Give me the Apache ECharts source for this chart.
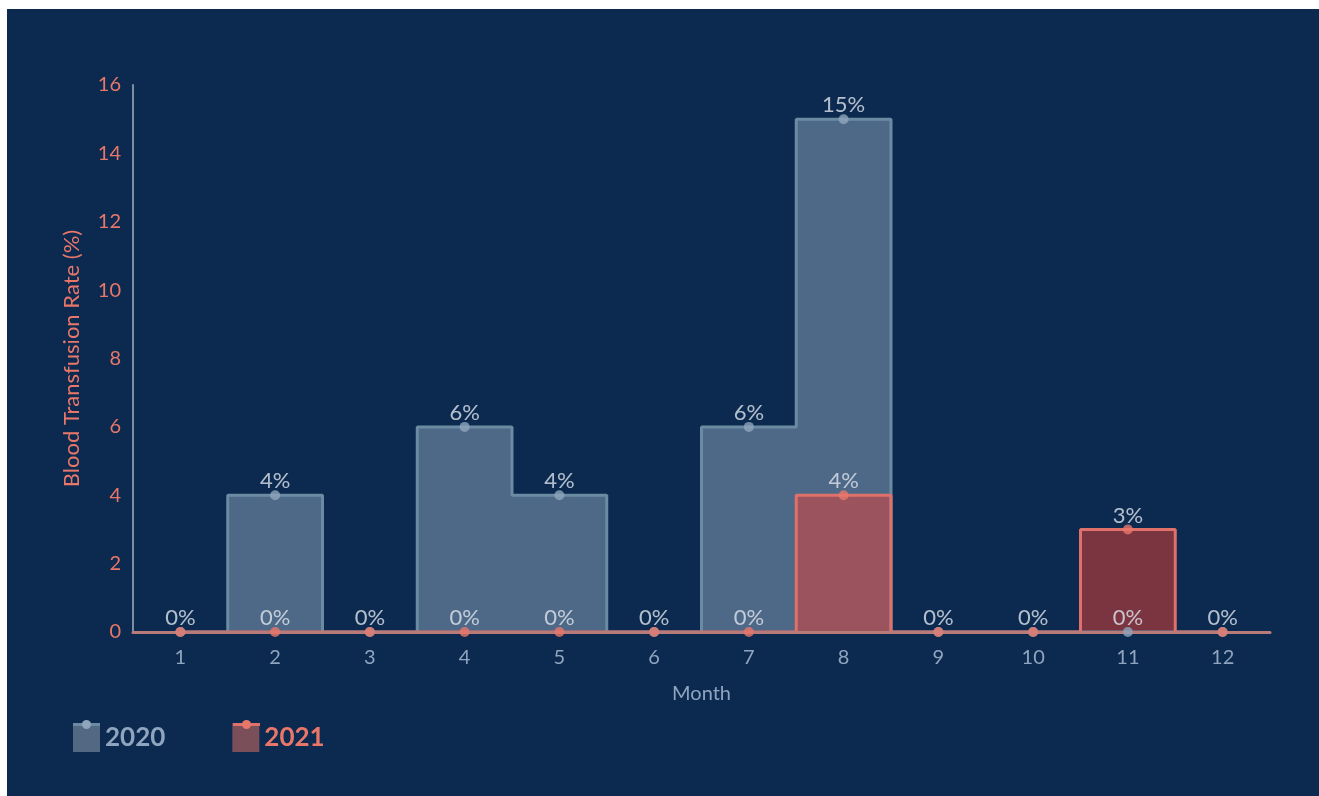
<!DOCTYPE html>
<html>
<head>
<meta charset="utf-8">
<script src="https://cdn.jsdelivr.net/npm/echarts@6/dist/echarts.min.js"></script>
<style>
  html, body { margin: 0; padding: 0; background: #ffffff; }
  #chart { position: absolute; left: 7px; top: 9px; width: 1312px; height: 787px; background: #0c2a4f; }
</style>
</head>
<body>
<div id="chart"></div>
<script>
const months = ['1','2','3','4','5','6','7','8','9','10','11','12'];
const rate2020 = [0, 4, 0, 6, 4, 0, 6, 15, 0, 0, 0, 0];
const rate2021 = [0, 0, 0, 0, 0, 0, 0, 4, 0, 0, 3, 0];
const yTicks = { min: 0, max: 16, interval: 2 };

const FONT = 'Lato';
const c2020 = { line: '#6b8ba3', point: '#8fa5bb', area: 'rgba(143,165,191,0.5)', text: '#8fa5bf', legendFill: '#536882' };
const c2021 = { line: '#e0716a', point: '#e8776a', area: 'rgba(232,64,52,0.5)', text: '#e8776a', legendFill: '#7b4f5a' };

const chart = echarts.init(document.getElementById('chart'));

function areaSeries(name, data, c) {
  return {
    name: name,
    type: 'line',
    step: 'middle',
    data: data,
    z: 1,
    symbol: 'none',
    lineStyle: { color: c.line, width: 3 },
    itemStyle: { color: c.point },
    areaStyle: { color: c.area, opacity: 1 },
    emphasis: { disabled: true }
  };
}
function pointSeries(name, data, c) {
  return {
    name: name,
    type: 'scatter',
    data: data,
    z: 3,
    symbol: 'circle',
    symbolSize: 10,
    itemStyle: { color: c.point },
    label: {
      show: true, position: 'top', distance: -2,
      formatter: '{c}%',
      color: '#dfe5ee', fontFamily: FONT, fontSize: 22
    },
    labelLayout: { hideOverlap: true },
    emphasis: { disabled: true }
  };
}

chart.setOption({
  backgroundColor: '#0c2a4f',
  animation: false,
  grid: { left: 126, right: 49, top: 76, bottom: 164 },
  legend: {
    left: 66, top: 714, padding: 0,
    itemWidth: 27, itemHeight: 29, itemGap: 67,
    icon: 'rect',
    textStyle: { fontFamily: FONT, fontSize: 26, fontWeight: 'bold' },
    data: [
      { name: '2020', itemStyle: { color: c2020.legendFill }, textStyle: { color: c2020.text } },
      { name: '2021', itemStyle: { color: c2021.legendFill }, textStyle: { color: c2021.text } }
    ],
    selectedMode: false
  },
  xAxis: {
    type: 'category',
    data: months,
    boundaryGap: true,
    z: 2,
    name: 'Month',
    nameLocation: 'middle',
    nameGap: 52,
    nameTextStyle: { color: '#8fa5bf', fontFamily: FONT, fontSize: 20 },
    axisLine: { lineStyle: { color: '#b97b79', width: 3 } },
    axisTick: { show: false },
    axisLabel: { color: '#8fa5bf', fontFamily: FONT, fontSize: 20, margin: 16 },
    splitLine: { show: false }
  },
  yAxis: {
    type: 'value',
    min: yTicks.min, max: yTicks.max, interval: yTicks.interval,
    name: 'Blood Transfusion Rate (%)',
    nameLocation: 'middle',
    nameGap: 50,
    nameTextStyle: { color: '#e8776a', fontFamily: FONT, fontSize: 22 },
    axisLine: { show: true, lineStyle: { color: '#7c8ea4', width: 2 } },
    axisTick: { show: false },
    axisLabel: { color: '#e8776a', fontFamily: FONT, fontSize: 20, margin: 12 },
    splitLine: { show: false }
  },
  series: [
    areaSeries('2020', rate2020, c2020),
    areaSeries('2021', rate2021, c2021),
    pointSeries('2020', rate2020, c2020),
    pointSeries('2021', rate2021, c2021)
  ],
  graphic: [
    { type: 'rect', left: 66, top: 714, shape: { width: 27, height: 3 }, style: { fill: c2020.line }, z: 100 },
    { type: 'circle', shape: { cx: 79.5, cy: 715.5, r: 4.5 }, style: { fill: c2020.point }, z: 101 },
    { type: 'rect', left: 226, top: 714, shape: { width: 27, height: 3 }, style: { fill: c2021.line }, z: 100 },
    { type: 'circle', shape: { cx: 239.5, cy: 715.5, r: 4.5 }, style: { fill: c2021.point }, z: 101 }
  ]
});
</script>
</body>
</html>
